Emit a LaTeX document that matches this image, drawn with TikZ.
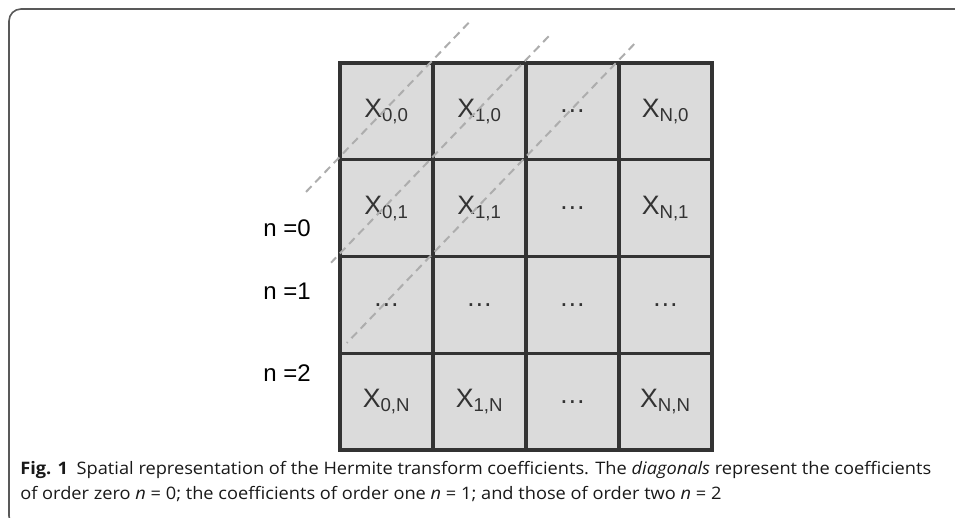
\documentclass[tikz,border=0pt]{standalone}
\usepackage{fontspec}
\setmainfont{Open Sans}[FakeStretch=1.06]
\newfontfamily\cellfont{Liberation Sans}
\usetikzlibrary{positioning,calc}

\begin{document}
\begin{tikzpicture}[x=0.75pt,y=-0.75pt,
		cell/.style={rectangle, draw=black!80, fill=black!14, line width=2.3pt, minimum width=69.75pt, minimum height=72.6pt, inner sep=0pt, font=\cellfont\fontsize{20}{23}\selectfont, text=black!80},
		ord/.style={font=\cellfont\fontsize{18}{21}\selectfont, anchor=east, inner sep=0pt},
		diag/.style={draw=black!32, dash pattern=on 6pt off 4pt, line width=1.5pt},
		frame/.style={draw=black!65, line width=1.2pt, rounded corners=9pt},
		capt/.style={anchor=north west, align=left, inner sep=0pt, font=\fontsize{12.9}{18.75}\selectfont, text=black!90}
		]
		\useasboundingbox (0,0) rectangle (955,517);
		\clip (0,0) rectangle (955,517);
		\draw[frame] (970,9) -- (9,9) -- (9,528) -- (970,528);
		% coefficient grid
		\node[cell] (c00) at (386.5,111.4) {X\textsubscript{0,0}};
		\node[cell] (c10) at (479.5,111.4) {X\textsubscript{1,0}};
		\node[cell] (c20) at (572.5,111.4) {\ldots};
		\node[cell] (c30) at (665.5,111.4) {X\textsubscript{N,0}};
		\node[cell] (c01) at (386.5,208.1) {X\textsubscript{0,1}};
		\node[cell] (c11) at (479.5,208.1) {X\textsubscript{1,1}};
		\node[cell] (c21) at (572.5,208.1) {\ldots};
		\node[cell] (c31) at (665.5,208.1) {X\textsubscript{N,1}};
		\node[cell] (c02) at (386.5,304.9) {\ldots};
		\node[cell] (c12) at (479.5,304.9) {\ldots};
		\node[cell] (c22) at (572.5,304.9) {\ldots};
		\node[cell] (c32) at (665.5,304.9) {\ldots};
		\node[cell] (c03) at (386.5,401.6) {X\textsubscript{0,N}};
		\node[cell] (c13) at (479.5,401.6) {X\textsubscript{1,N}};
		\node[cell] (c23) at (572.5,401.6) {\ldots};
		\node[cell] (c33) at (665.5,401.6) {X\textsubscript{N,N}};
		% diagonals of equal order
		\draw[diag] ($(c10.north west)!-0.4!(c01.north west)$) -- ($(c01.north west)!-0.38!(c10.north west)$);
		\draw[diag] ($(c20.north west)!-0.13!(c02.north west)$) -- ($(c02.north west)!-0.04!(c20.north west)$);
		\draw[diag] ($(c30.north west)!-0.06!(c03.north west)$) -- ($(c30.north west)!0.97!(c03.north west)$);
		\node[ord] (n0) at (311,228) {n =0};
		\node[ord] (n1) at (311,291) {n =1};
		\node[ord] (n2) at (311,373) {n =2};
		\node[capt] (cap) at (20,461) {\textbf{Fig. 1}\enspace Spatial representation of the Hermite transform coefficients. The \textit{diagonals} represent the coefficients\\
			of order zero \textit{n}~=~0; the coefficients of order one \textit{n}~=~1; and those of order two \textit{n}~=~2};
	\end{tikzpicture}
\end{document}
